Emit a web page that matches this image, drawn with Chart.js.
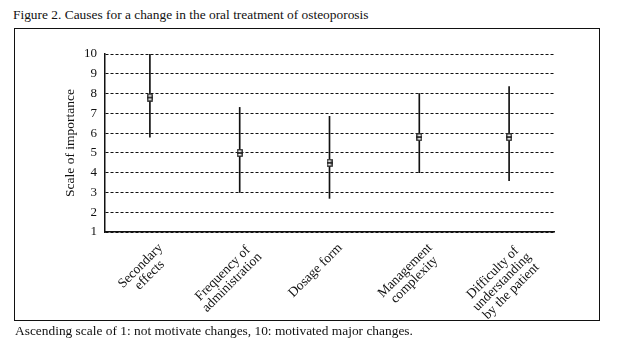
<!DOCTYPE html>
<html>
<head>
<meta charset="utf-8">
<script src="https://cdn.jsdelivr.net/npm/chart.js@4/dist/chart.umd.min.js"></script>
<style>
  html, body { margin: 0; padding: 0; background: #fff; }
  body { width: 620px; height: 353px; position: relative; overflow: hidden; font-family: "Liberation Serif", "DejaVu Serif", serif; color: #111; }
  #title { position: absolute; left: 13px; top: 8px; font-size: 13.4px; line-height: 14px; white-space: nowrap; }
  #caption { position: absolute; left: 15px; top: 324px; font-size: 13.4px; line-height: 14px; white-space: nowrap; }
  #frame { position: absolute; left: 14px; top: 28px; width: 584px; height: 291px; border: 1.5px solid #111; }
  #c { position: absolute; left: 0; top: 0; }
</style>
</head>
<body>
<div id="title">Figure 2. Causes for a change in the oral treatment of osteoporosis</div>
<div id="frame"></div>
<canvas id="c" width="620" height="353"></canvas>
<div id="caption">Ascending scale of 1: not motivate changes, 10: motivated major changes.</div>
<script>
const categories = [
  ["Secondary", "effects"],
  ["Frequency of", "administration"],
  ["Dosage form"],
  ["Management", "complexity"],
  ["Difficulty of", "understanding", "by the patient"]
];
const meanValues = [7.8, 5.0, 4.5, 5.8, 5.8];
const lowValues  = [5.8, 3.0, 2.7, 4.0, 3.6];
const highValues = [10.0, 7.3, 6.85, 8.0, 8.35];
const yTickValues = [1, 2, 3, 4, 5, 6, 7, 8, 9, 10];
const yAxisTitle = "Scale of importance";

// small marker glyph (two stacked boxes)
const marker = document.createElement('canvas');
marker.width = 6; marker.height = 8;
(function(){
  const c = marker.getContext('2d');
  c.fillStyle = '#fff';
  c.fillRect(0.5, 0.5, 5, 7);
  c.strokeStyle = '#111'; c.lineWidth = 1.2;
  c.strokeRect(0.8, 0.8, 4.4, 3.2);
  c.strokeRect(0.8, 4.0, 4.4, 3.2);
})();

const labelPlugin = {
  id: 'rotLabels',
  afterDraw(chart) {
    const ctx = chart.ctx;
    const xs = chart.scales.x;
    const labels = chart.data.labels;
    ctx.save();
    ctx.font = '13.5px "Liberation Serif", serif';
    ctx.fillStyle = '#111';
    const lh = 13;
    labels.forEach((lines, i) => {
      const x = xs.getPixelForTick(i);
      const y = xs.top;
      let W = 0;
      lines.forEach(l => { W = Math.max(W, ctx.measureText(l).width); });
      ctx.save();
      ctx.translate(x + 6, y + 9);
      ctx.rotate(-Math.PI / 4);
      ctx.textAlign = 'center';
      ctx.textBaseline = 'top';
      lines.forEach((l, j) => ctx.fillText(l, -W / 2, j * lh));
      ctx.restore();
    });
    ctx.restore();
  }
};

new Chart(document.getElementById('c'), {
  type: 'bar',
  data: {
    labels: categories,
    datasets: [
      {
        type: 'bar',
        data: lowValues.map((l, i) => [l, highValues[i]]),
        backgroundColor: '#111',
        borderWidth: 0,
        barThickness: 1,
        order: 2
      },
      {
        type: 'line',
        data: meanValues,
        showLine: false,
        pointStyle: marker,
        pointRadius: 4,
        order: 1
      }
    ]
  },
  options: {
    responsive: false,
    animation: false,
    events: [],
    layout: { padding: { left: 0, top: 54, right: 66, bottom: 0 } },
    plugins: { legend: { display: false }, tooltip: { enabled: false }, title: { display: false } },
    scales: {
      x: {
        offset: true,
        grid: { display: false, drawTicks: false },
        border: { display: true, color: '#111', width: 1.5 },
        ticks: { display: false },
        afterFit(s) { s.height = 353 - 232; }
      },
      y: {
        min: 1, max: 10,
        afterBuildTicks(s) { s.ticks = yTickValues.map(v => ({ value: v })); },
        grid: { color: '#111', lineWidth: 1, drawTicks: false },
        border: { display: true, color: '#111', width: 1.5, dash: [3, 2] },
        ticks: {
          padding: 8,
          color: '#111',
          font: { family: '"Liberation Serif", serif', size: 13 }
        },
        title: {
          display: true,
          text: yAxisTitle,
          color: '#111',
          font: { family: '"Liberation Serif", serif', size: 13.5 },
          padding: { top: 62, bottom: 0 }
        },
        afterFit(s) { s.width = 105; }
      }
    }
  },
  plugins: [labelPlugin]
});
</script>
</body>
</html>
